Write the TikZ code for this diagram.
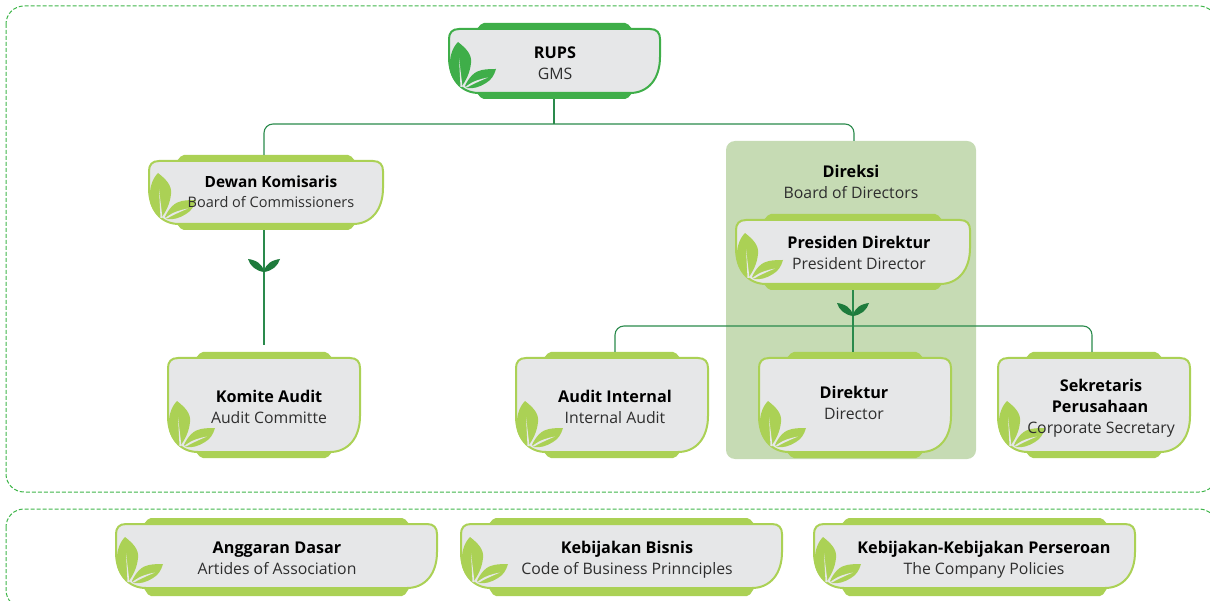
\documentclass[tikz,border=0pt]{standalone}
\usepackage{fontspec}
\setmainfont{Open Sans}
\definecolor{dark}{HTML}{3FAE49}
\definecolor{lime}{HTML}{ABD155}
\definecolor{cardfill}{HTML}{E6E7E8}
\definecolor{panelc}{HTML}{C6DBB4}
\definecolor{linec}{HTML}{2A8A4C}
\definecolor{sproutc}{HTML}{1E7B3C}
\definecolor{dashc}{HTML}{3FB54A}
\tikzset{
  conn/.style={draw=linec,line width=1.1pt,rounded corners=9pt},
  dashbox/.style={draw=dashc,line width=1pt,dash pattern=on 4pt off 2pt,rounded corners=18pt},
  boldtxt/.style={inner sep=0pt,anchor=base,yshift=-6.3pt,font=\fontsize{16.2}{16}\selectfont\bfseries,text=black},
  regtxt/.style={inner sep=0pt,anchor=base,yshift=-6.3pt,font=\fontsize{15.8}{16}\selectfont,text=black!82},
  smallbold/.style={boldtxt,font=\fontsize{15.4}{16}\selectfont\bfseries},
  smallreg/.style={regtxt,font=\fontsize{14.5}{16}\selectfont},
}
% name, x0, y0, x1, y1, colour, lower tab depth
\newcommand\cardshape[7]{%
  \node[inner sep=0pt,minimum width={#4-#2-54},minimum height={#5-#3+6+#7}] (#1) at ({(#2+#4)/2},{(#3+#5+#7-6)/2}) {};
  \fill[#6,rounded corners=2pt] (#2+27,#3+1) -- (#2+33,#3-6) -- (#4-33,#3-6) -- (#4-27,#3+1) -- (#4-27,#5-1) -- (#4-33,#5+#7) -- (#2+33,#5+#7) -- (#2+27,#5-1) -- cycle;
  \draw[#6,fill=cardfill,line width=2pt]
    (#2+10,#3) -- (#4-10,#3)
    .. controls (#4-3,#3) and (#4,#3+4) .. (#4,#3+10)
    -- (#4,#5-36)
    .. controls (#4,#5-14) and (#4-12,#5) .. (#4-30,#5)
    -- (#2+30,#5)
    .. controls (#2+12,#5) and (#2,#5-14) .. (#2,#5-36)
    -- (#2,#3+10)
    .. controls (#2,#3+4) and (#2+3,#3) .. (#2+10,#3) -- cycle;
  \begin{scope}[shift={(#2,#5)}]
    \fill[#6] (9,-51) .. controls (18,-44) and (23,-38) .. (22,-30)
      .. controls (21,-20) and (17,-13) .. (13,-7)
      .. controls (6,-11) and (2,-15) .. (1,-24)
      .. controls (0,-35) and (3,-45) .. (9,-51) -- cycle;
    \fill[cardfill] (10,-35) -- (13.5,-6) -- (11.5,-6) -- cycle;
    \fill[#6] (16,-7) .. controls (20,-16) and (26,-22) .. (33,-23)
      .. controls (38,-24) and (43,-24) .. (47,-24)
      .. controls (45,-17) and (42,-13) .. (37,-10)
      .. controls (31,-6) and (24,-4) .. (18,-5) -- cycle;
    \fill[cardfill] (17,-6.5) .. controls (24,-12) and (31,-14) .. (39,-15.5) .. controls (31,-12) and (24,-9) .. (18,-5.5) -- cycle;
  \end{scope}
}
\newcommand\sprout[2]{%
  \fill[sproutc] (#1,#2) .. controls (#1-8,#2-1) and (#1-14,#2-6) .. (#1-16,#2-13)
    .. controls (#1-8,#2-12) and (#1-1,#2-8) .. (#1,#2) -- cycle;
  \fill[sproutc] (#1,#2) .. controls (#1+8,#2-1) and (#1+14,#2-6) .. (#1+16,#2-13)
    .. controls (#1+8,#2-12) and (#1+1,#2-8) .. (#1,#2) -- cycle;
}
\begin{document}
\begin{tikzpicture}[x=1pt,y=-1pt]
\useasboundingbox (0,0) rectangle (1210,601);
\begin{scope}
\clip (0,0) rectangle (1210,601);
\draw[dashbox] (6,6) rectangle (1217,492);
\draw[dashbox] (6,509) rectangle (1217,608);
\end{scope}
% panel
\node[fill=panelc,rounded corners=9pt,inner sep=0pt,minimum width=250pt,minimum height=318pt] (panel) at (851,300) {};
% junction coordinates
\coordinate (ja) at (264,124);
\coordinate (jb) at (854,124);
\coordinate (jc) at (554,124);
\coordinate (jd) at (615,326);
\coordinate (je) at (1092,326);
\coordinate (kend) at (264,345);
\coordinate (dtrunk) at (853,326);
% cards
\cardshape{rups}{449}{29}{660}{93}{dark}{6}
\cardshape{dewan}{149}{161}{383}{224}{lime}{6}
\cardshape{presiden}{736}{220}{970}{284}{lime}{6}
\cardshape{komite}{168}{358}{360}{452}{lime}{6}
\cardshape{audit}{516}{358}{708}{452}{lime}{6}
\cardshape{direktur}{759}{358}{951}{452}{lime}{6}
\cardshape{sekretaris}{998}{358}{1190}{452}{lime}{6}
\cardshape{anggaran}{116}{524}{437}{588}{lime}{8}
\cardshape{bisnis}{461}{524}{782}{588}{lime}{8}
\cardshape{kebijakan}{814}{524}{1135}{588}{lime}{8}
% connectors
\draw[conn] (rups.south -| jc) -- (jc);
\draw[conn] (dewan.north -| ja) -- (ja) -- (jb) -- (panel.north -| jb);
\draw[conn] (dewan.south -| kend) -- (kend);
\draw[conn] (presiden.south -| dtrunk) -- (direktur.north -| dtrunk);
\draw[conn] (audit.north -| jd) -- (jd) -- (je) -- (sekretaris.north -| je);
\sprout{264}{272}
\sprout{853}{316}
% text
\node[boldtxt] (t1a) at (555,52) {RUPS};
\node[regtxt] (t1b) at (555,73) {GMS};
\node[smallbold] (t2a) at (271,181) {Dewan Komisaris};
\node[smallreg] (t2b) at (271,201) {Board of Commissioners};
\node[boldtxt] (t3a) at (851,171) {Direksi};
\node[regtxt] (t3b) at (851,192) {Board of Directors};
\node[boldtxt] (t4a) at (859,242) {Presiden Direktur};
\node[regtxt] (t4b) at (859,263) {President Director};
\node[boldtxt] (t5a) at (269,396) {Komite Audit};
\node[regtxt] (t5b) at (269,417) {Audit Committe};
\node[boldtxt] (t6a) at (615,396) {Audit Internal};
\node[regtxt] (t6b) at (615,417) {Internal Audit};
\node[boldtxt] (t7a) at (854,392) {Direktur};
\node[regtxt] (t7b) at (854,413) {Director};
\node[boldtxt] (t8a) at (1101,385) {Sekretaris};
\node[boldtxt] (t8c) at (1100,406) {Perusahaan};
\node[regtxt] (t8b) at (1101,427) {Corporate Secretary};
\node[boldtxt] (t9a) at (277,547) {Anggaran Dasar};
\node[regtxt] (t9b) at (277,568) {Artides of Association};
\node[boldtxt] (t10a) at (627,547) {Kebijakan Bisnis};
\node[regtxt] (t10b) at (627,568) {Code of Business Prinnciples};
\node[boldtxt] (t11a) at (984,547) {Kebijakan-Kebijakan Perseroan};
\node[regtxt] (t11b) at (984,568) {The Company Policies};
\end{tikzpicture}
\end{document}
